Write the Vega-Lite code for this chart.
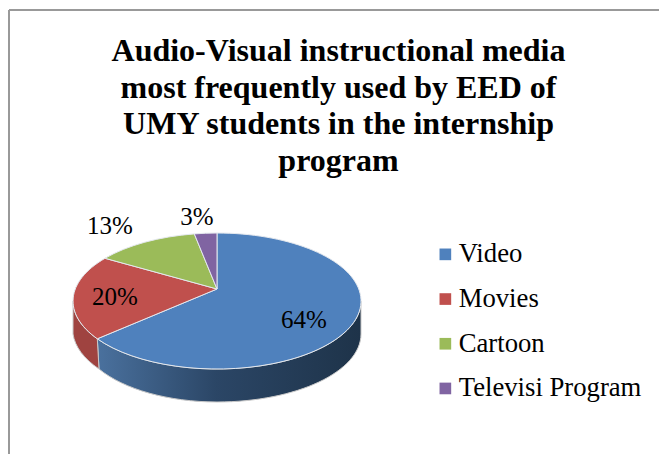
{
  "$schema": "https://vega.github.io/schema/vega-lite/v6.json",
  "width": 659,
  "height": 454,
  "padding": 0,
  "autosize": {"type": "none"},
  "background": "white",
  "title": {
    "text": ["Audio-Visual instructional media", "most frequently used by EED of", "UMY students in the internship", "program"],
    "font": "Liberation Serif",
    "fontSize": 32,
    "fontWeight": "bold",
    "color": "#000000",
    "anchor": "middle",
    "frame": "group",
    "offset": 0,
    "baseline": "top",
    "lineHeight": 36.7,
    "dx": 9,
    "dy": 178
  },
  "config": {"view": {"stroke": null}},
  "data": {
    "values": [
      {"media": "Video", "share": 0.64},
      {"media": "Movies", "share": 0.20},
      {"media": "Cartoon", "share": 0.13},
      {"media": "Televisi Program", "share": 0.03}
    ]
  },
  "encoding": {
    "x": {"datum": 0, "type": "quantitative", "axis": null, "scale": {"domain": [-217, 442]}},
    "y": {"datum": 0, "type": "quantitative", "axis": null, "scale": {"domain": [-165, 289]}}
  },
  "layer": [
    {
      "data": {"values": [{"edge": "left"}]},
      "mark": {"type": "rule", "color": "#999999", "strokeWidth": 2},
      "encoding": {
        "x": {"datum": -208, "type": "quantitative"},
        "y": {"datum": 279, "type": "quantitative"},
        "y2": {"datum": -165}
      }
    },
    {
      "data": {"values": [{"edge": "top"}]},
      "mark": {"type": "rule", "color": "#999999", "strokeWidth": 2},
      "encoding": {
        "x": {"datum": -208, "type": "quantitative"},
        "x2": {"datum": 442},
        "y": {"datum": 279, "type": "quantitative"}
      }
    },
    {
      "transform": [{"filter": "datum.media === 'Video'"}],
      "mark": {
        "type": "point",
        "filled": true,
        "size": 4,
        "opacity": 1,
        "stroke": "#c9c9c9",
        "strokeWidth": 1,
        "fill": {
          "gradient": "linear",
          "x1": 0, "y1": 0, "x2": 1, "y2": 0,
          "stops": [
            {"offset": 0, "color": "#4a719e"},
            {"offset": 0.45, "color": "#2b4666"},
            {"offset": 1, "color": "#1e3349"}
          ]
        },
        "shape": "M-119.7,49.8 A144,68 0 0 0 144,12 L144,45 A144,68 0 0 1 0,113 A138,68 0 0 1 -118,80 Z"
      }
    },
    {
      "transform": [{"filter": "datum.media === 'Movies'"}],
      "mark": {
        "type": "point",
        "filled": true,
        "size": 4,
        "opacity": 1,
        "stroke": "#c9c9c9",
        "strokeWidth": 1,
        "fill": "#9f4340",
        "shape": "M-144,12 A144,68 0 0 0 -119.7,49.8 L-118,80 A138,68 0 0 1 -144,45 Z"
      }
    },
    {
      "mark": {"type": "point", "filled": true, "size": 4, "opacity": 1, "stroke": "#e4e8ee", "strokeWidth": 1},
      "encoding": {
        "fill": {
          "field": "media",
          "type": "nominal",
          "scale": {
            "domain": ["Televisi Program", "Cartoon", "Movies", "Video"],
            "range": ["#8064a2", "#9bbb59", "#c0504d", "#4f81bd"]
          },
          "legend": null
        },
        "shape": {
          "field": "media",
          "type": "nominal",
          "legend": null,
          "scale": {
            "domain": ["Televisi Program", "Cartoon", "Movies", "Video"],
            "range": [
              "M0,0 L-22.7,-55.1 A144,68 0 0 1 0,-56 Z",
              "M0,0 L-112,-30.7 A144,68 0 0 1 -22.7,-55.1 Z",
              "M0,0 L-119.7,49.8 A144,68 0 0 1 -112,-30.7 Z",
              "M0,0 L0,-56 A144,68 0 1 1 -119.7,49.8 Z"
            ]
          }
        }
      }
    },
    {
      "mark": {"type": "square", "size": 0, "opacity": 1},
      "encoding": {
        "color": {
          "field": "media",
          "type": "nominal",
          "scale": {
            "domain": ["Video", "Movies", "Cartoon", "Televisi Program"],
            "range": ["#4f81bd", "#c0504d", "#9bbb59", "#8064a2"]
          },
          "legend": {
            "title": null,
            "orient": "none",
            "legendX": 432,
            "legendY": 241,
            "symbolType": "square",
            "symbolSize": 136,
            "symbolStrokeWidth": 0,
            "labelFont": "Liberation Serif",
            "labelFontSize": 26.7,
            "labelColor": "#000000",
            "labelOffset": 0,
            "labelLimit": 300,
            "rowPadding": 16.7
          }
        }
      }
    },
    {
      "transform": [{"filter": "datum.media === 'Video'"}],
      "mark": {"type": "text", "font": "Liberation Serif", "fontSize": 25, "color": "#000000", "dx": 87, "dy": 31},
      "encoding": {"text": {"field": "share", "type": "quantitative", "format": ".0%"}}
    },
    {
      "transform": [{"filter": "datum.media === 'Movies'"}],
      "mark": {"type": "text", "font": "Liberation Serif", "fontSize": 25, "color": "#000000", "dx": -102, "dy": 8},
      "encoding": {"text": {"field": "share", "type": "quantitative", "format": ".0%"}}
    },
    {
      "transform": [{"filter": "datum.media === 'Cartoon'"}],
      "mark": {"type": "text", "font": "Liberation Serif", "fontSize": 25, "color": "#000000", "dx": -107, "dy": -63},
      "encoding": {"text": {"field": "share", "type": "quantitative", "format": ".0%"}}
    },
    {
      "transform": [{"filter": "datum.media === 'Televisi Program'"}],
      "mark": {"type": "text", "font": "Liberation Serif", "fontSize": 25, "color": "#000000", "dx": -20, "dy": -72},
      "encoding": {"text": {"field": "share", "type": "quantitative", "format": ".0%"}}
    }
  ]
}
